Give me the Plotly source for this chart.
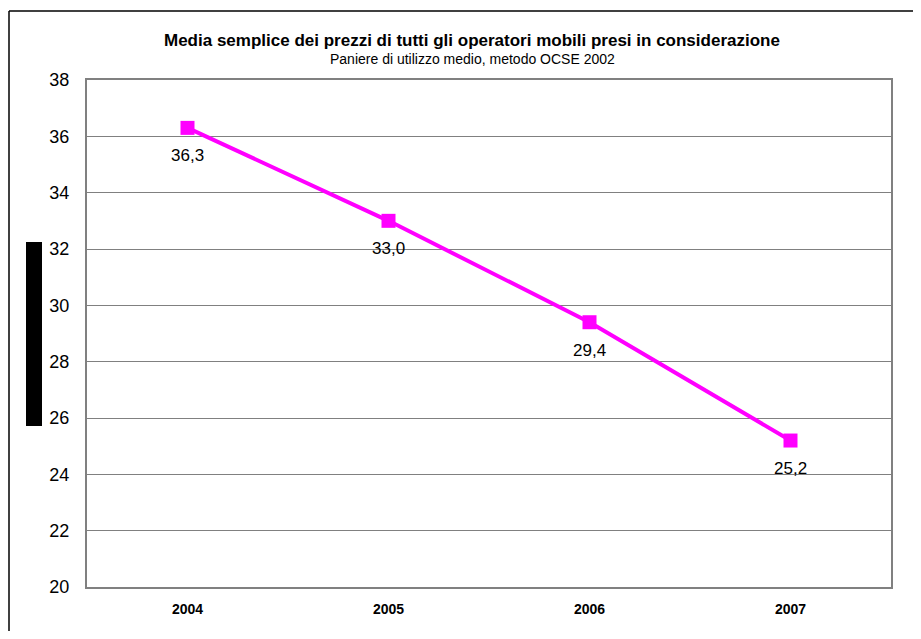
import plotly.graph_objects as go

years = ["2004", "2005", "2006", "2007"]
prices = [36.3, 33.0, 29.4, 25.2]
labels = ["36,3", "33,0", "29,4", "25,2"]
y_ticks = [20, 22, 24, 26, 28, 30, 32, 34, 36, 38]

OFF = 8  # page offset of the figure in the browser (body margin)
W, H = 921 - 2 * OFF, 639 - 2 * OFF
# plot area in page pixels: x 87..891, y 80..587
L, T = 87 - OFF, 80 - OFF
R, B = W - (891 - OFF), H - (587 - OFF)
pw, ph = W - L - R, H - T - B

def px(x):
    return (x - OFF - L) / pw

def py(y):
    return (H - B - (y - OFF)) / ph

FONT = "Liberation Sans, Arial"

fig = go.Figure()
fig.add_trace(go.Scatter(
    x=years, y=prices, mode="lines+markers",
    line=dict(color="#FF00FF", width=4),
    marker=dict(symbol="square", size=14, color="#FF00FF"),
    hoverinfo="skip", showlegend=False,
))

for i, (yv, t) in enumerate(zip(prices, labels)):
    fig.add_annotation(x=i, y=yv, xref="x", yref="y", text=t, showarrow=False, yshift=-28,
                       font=dict(family=FONT, size=17, color="black"))

fig.add_annotation(xref="paper", yref="paper", x=px(472), y=py(40), xanchor="center", yanchor="middle",
                   text="<b>Media semplice dei prezzi di tutti gli operatori mobili presi in considerazione</b>",
                   showarrow=False, font=dict(family=FONT, size=17, color="black"))
fig.add_annotation(xref="paper", yref="paper", x=px(472), y=py(59), xanchor="center", yanchor="middle",
                   text="Paniere di utilizzo medio, metodo OCSE 2002",
                   showarrow=False, font=dict(family=FONT, size=14, color="black"))

# outer border: only top and left edges are visible
fig.add_shape(type="line", xref="paper", yref="paper", x0=px(9), x1=px(960), y0=py(11), y1=py(11),
              line=dict(color="black", width=1.5), layer="above")
fig.add_shape(type="line", xref="paper", yref="paper", x0=px(9), x1=px(9), y0=py(11), y1=py(680),
              line=dict(color="black", width=1.5), layer="above")
# black bar on the left
fig.add_shape(type="rect", xref="paper", yref="paper", x0=px(26), x1=px(42), y0=py(426), y1=py(242),
              line=dict(width=0), fillcolor="black", layer="above")

fig.update_layout(
    width=W, height=H,
    margin=dict(l=L, r=R, t=T, b=B),
    paper_bgcolor="white", plot_bgcolor="white",
    font=dict(family=FONT, color="black"),
    xaxis=dict(type="category", range=[-0.5, 3.5], showgrid=False, showline=True, mirror=True,
               linecolor="#808080", linewidth=2, ticks="", zeroline=False,
               tickfont=dict(family=FONT, size=14, color="black", weight="bold"),
               ticklabelstandoff=8),
    yaxis=dict(range=[20, 38], tickvals=y_ticks, showgrid=True, gridcolor="#808080", gridwidth=1,
               showline=True, mirror=True, linecolor="#808080", linewidth=2, ticks="", zeroline=False,
               tickfont=dict(family=FONT, size=18, color="black"),
               ticklabelstandoff=12),
)

fig.write_html("out.html")
